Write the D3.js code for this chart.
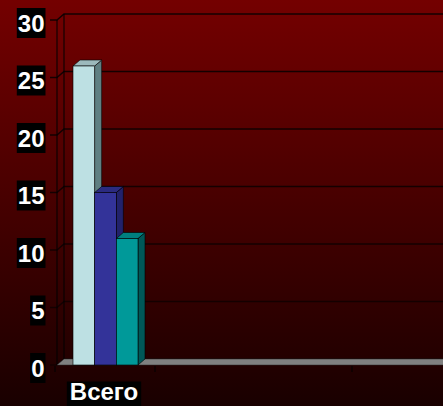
<!DOCTYPE html>
<html>
<head>
<meta charset="utf-8">
<script src="https://cdn.jsdelivr.net/npm/d3@7"></script>
<style>
  html, body { margin: 0; padding: 0; background: #1a0000; overflow: hidden; }
  text { font-family: "Liberation Sans", Arial, sans-serif; font-weight: bold; }
</style>
</head>
<body>
<div id="chart"></div>
<script>
const categories = ["Всего"];
const seriesNames = ["Ряд 1", "Ряд 2", "Ряд 3"];
const seriesValues = [[26], [15], [11]];
const yTicks = [0, 5, 10, 15, 20, 25, 30];

const colors = [
  { front: "#bde0e3", top: "#9cb9bc", side: "#5f7f82" },
  { front: "#333399", top: "#2b2b80", side: "#22226b" },
  { front: "#009999", top: "#007f7f", side: "#005858" }
];

const W = 443, H = 406;
const dx = 7, dy = -6;   // depth of the 3d box
const left = 57, right = 460, front0 = 365;

const svg = d3.select("#chart")
  .append("svg")
  .attr("width", W)
  .attr("height", H);

const grad = svg.append("defs").append("linearGradient")
  .attr("id", "bg")
  .attr("x1", 0).attr("y1", 0).attr("x2", 0).attr("y2", 1);
grad.append("stop").attr("offset", "0%").attr("stop-color", "#740000");
grad.append("stop").attr("offset", "100%").attr("stop-color", "#190000");

svg.append("rect").attr("width", W).attr("height", H).attr("fill", "url(#bg)");

const y = d3.scaleLinear().domain([0, 30]).range([front0, 20]);

const x0 = d3.scaleBand().domain(categories).range([55, 155]);
const x1 = d3.scaleBand().domain(seriesNames).range([18, 83]);

// back wall gridlines + left wall
const grid = svg.append("g");
grid.selectAll(".grid")
  .data(yTicks)
  .join("path")
  .attr("class", "grid")
  .attr("fill", "none")
  .attr("stroke", "#140000")
  .attr("stroke-width", 1.5)
  .attr("d", d => `M${left - 7},${y(d)} L${left},${y(d)} L${left + dx},${y(d) + dy} L${right},${y(d) + dy}`);

grid.append("line")
  .attr("x1", left).attr("x2", left)
  .attr("y1", y(30)).attr("y2", y(0))
  .attr("stroke", "#000").attr("stroke-width", 1);
grid.append("line")
  .attr("x1", left + dx).attr("x2", left + dx)
  .attr("y1", y(30) + dy).attr("y2", y(0) + dy)
  .attr("stroke", "#000").attr("stroke-width", 1);

// floor
svg.append("path")
  .attr("fill", "#808080")
  .attr("stroke", "#2a2a2a")
  .attr("stroke-width", 0.5)
  .attr("d", `M${left},${y(0)} L${right},${y(0)} L${right},${y(0) + dy} L${left + dx},${y(0) + dy} Z`);

// category ticks under the floor
const xt = [x0.range()[0], x0.range()[1], 352];
svg.selectAll(".xtick")
  .data(xt)
  .join("line")
  .attr("class", "xtick")
  .attr("x1", d => d).attr("x2", d => d)
  .attr("y1", y(0) + 1).attr("y2", y(0) + 7)
  .attr("stroke", "#000");

// bars
const bars = svg.append("g");
seriesNames.forEach((s, i) => {
  categories.forEach((c, j) => {
    const v = seriesValues[i][j];
    const xa = x0(c) + x1(s);
    const xb = xa + x1.bandwidth();
    const yt = y(v), yb = y(0);
    const g = bars.append("g");
    g.append("path")
      .attr("fill", colors[i].side)
      .attr("stroke", "#000").attr("stroke-width", 0.6)
      .attr("d", `M${xb},${yt} L${xb + dx},${yt + dy} L${xb + dx},${yb + dy} L${xb},${yb} Z`);
    g.append("path")
      .attr("fill", colors[i].top)
      .attr("stroke", "#000").attr("stroke-width", 0.6)
      .attr("d", `M${xa},${yt} L${xa + dx},${yt + dy} L${xb + dx},${yt + dy} L${xb},${yt} Z`);
    g.append("rect")
      .attr("x", xa).attr("y", yt)
      .attr("width", x1.bandwidth()).attr("height", yb - yt)
      .attr("fill", colors[i].front)
      .attr("stroke", "#000").attr("stroke-width", 0.6);
  });
});

// y labels on black boxes
const ylab = svg.append("g");
yTicks.forEach(t => {
  const box = ylab.append("rect").attr("fill", "#000");
  const txt = ylab.append("text")
    .attr("x", 44.5)
    .attr("y", y(t) + 11.5)
    .attr("text-anchor", "end")
    .attr("font-size", 24)
    .attr("fill", "#fff")
    .text(t);
  const bb = txt.node().getBBox();
  box.attr("x", bb.x - 1)
    .attr("y", y(t) + 11.5 - 23.5)
    .attr("width", bb.width + 2)
    .attr("height", 30);
});

// category label
const xlab = svg.append("g");
categories.forEach(c => {
  const cx = x0(c) + x0.bandwidth() / 2 - 1;
  const box = xlab.append("rect").attr("fill", "#000");
  const txt = xlab.append("text")
    .attr("x", cx)
    .attr("y", 400)
    .attr("text-anchor", "middle")
    .attr("font-size", 24)
    .attr("fill", "#fff")
    .text(c);
  const bb = txt.node().getBBox();
  box.attr("x", bb.x - 3)
    .attr("y", 381.5)
    .attr("width", bb.width + 6)
    .attr("height", 30);
});
</script>
</body>
</html>
